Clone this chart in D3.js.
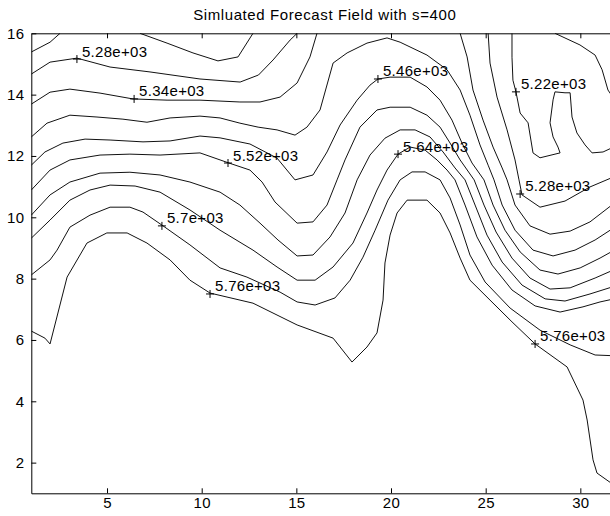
<!DOCTYPE html>
<html><head><meta charset="utf-8">
<script src="https://cdn.jsdelivr.net/npm/d3@7/dist/d3.min.js"></script>
<style>
body{margin:0;background:#fff;}
svg{display:block;}
text{font-family:"Liberation Sans",Arial,Helvetica,sans-serif;fill:#000;}
</style></head><body>
<svg id="chart" width="610" height="516"></svg>
<script>
// ---------- data (grid coordinates: x = column 1..32, y = row 1..16) ----------
const chartTitle = "Simluated Forecast Field with s=400";
const xTicks = [5, 10, 15, 20, 25, 30];
const yTicks = [2, 4, 6, 8, 10, 12, 14, 16];
const xDomain = [1, 32];
const yDomain = [1, 16];
const levels = [5220, 5280, 5340, 5400, 5460, 5520, 5580, 5640, 5700, 5760];

// each level: list of polyline pieces, points as [x, y]
const level5220 = [
  [[1,15.39],[1.99,15.71],[2.52,16]],
  [[6.74,16],[8.17,15.68],[9.54,15.36],[10.86,15.10],[11.92,15.23],[12.71,16]],
  [[26.39,16],[26.39,15.22],[26.44,14.47],[26.60,14.09],[26.82,13.40],[27.24,13.08],[27.50,12.10],[27.87,11.94],[28.93,12.10],[28.82,12.29],[28.56,12.62],[28.40,13.08],[28.56,13.83],[28.66,14.09],[29.19,14.06],[29.46,14.06],[29.56,13.27],[29.82,12.75],[30.25,12.36],[30.62,12.10],[31.20,12.13],[32,12.36]],
  [[28.66,16],[29.98,15.62],[30.78,15.29],[31.15,14.81],[31.46,14.15],[32,13.66]]
];
const level5280 = [
  [[1,14.67],[1.99,15.06],[3.41,15.19],[5.16,14.90],[7.27,14.74],[9.91,14.51],[12.03,14.41],[13.0,14.64],[13.77,15.13],[14.67,15.78],[15.04,16]],
  [[25.13,16],[25.23,15.03],[25.60,13.92],[26.13,12.85],[26.55,11.87],[26.76,11.22],[26.92,10.73],[27.87,10.33],[29.19,10.53],[30.51,10.99],[32,11.38]]
];
const level5340 = [
  [[1,13.69],[1.99,14.08],[3.04,14.18],[4.63,14.05],[6.37,13.86],[8.17,13.82],[9.91,13.82],[12.02,13.76],[13.08,13.76],[14.14,13.92],[15.04,14.38],[15.72,15.23],[16.09,16]],
  [[23.65,16],[24.02,15.23],[24.33,14.15],[24.86,13.17],[25.39,12.29],[25.87,11.61],[26.13,11.22],[26.55,10.40],[27.34,9.72],[28.40,9.45],[29.46,9.55],[30.51,9.85],[32,10.56]]
];
const level5400 = [
  [[1,12.62],[1.83,13.07],[3.04,13.33],[4.47,13.27],[5.84,13.20],[7.11,13.10],[8.33,13.24],[9.91,13.30],[10.97,13.24],[12.02,13.07],[12.98,12.94],[13.98,12.85],[14.93,12.68],[15.56,12.94],[16.25,13.50],[16.94,15.03],[17.68,15.36],[18.73,15.68],[19.79,15.85],[20.48,15.71],[21.90,15.29],[22.96,14.81],[23.65,14.15],[24.17,13.33],[24.70,12.36],[25.13,11.70],[25.44,11.22],[25.87,10.40],[26.55,9.58],[27.50,8.93],[28.56,8.74],[29.72,8.93],[30.78,9.26],[32,9.75]]
];
const level5460 = [
  [[1,11.70],[1.72,12.13],[2.67,12.42],[3.84,12.55],[5.16,12.52],[6.90,12.46],[8.33,12.49],[9.91,12.65],[10.97,12.59],[12.55,12.39],[13.98,11.93],[14.93,11.22],[15.88,11.38],[16.62,12.13],[17.31,13.01],[18.21,13.82],[18.89,14.31],[19.31,14.51],[19.95,14.57],[21.01,14.57],[21.90,14.25],[22.59,13.82],[23.22,13.17],[23.75,12.42],[24.28,11.77],[24.91,11.22],[25.39,10.40],[26.02,9.58],[26.82,8.87],[27.87,8.28],[28.82,8.15],[29.99,8.35],[31.04,8.67],[32,9.00]]
];
const level5520 = [
  [[1,10.89],[1.99,11.54],[3.04,11.87],[4.63,12.03],[6.21,12.06],[7.80,12.03],[9.91,12.10],[11.44,11.77],[12.55,11.54],[13.19,11.15],[13.87,10.50],[15.04,9.81],[15.88,9.85],[16.62,10.40],[17.15,11.22],[17.57,11.87],[18.36,12.94],[19.26,13.50],[19.95,13.59],[21.01,13.59],[21.90,13.33],[22.59,12.94],[23.12,12.42],[23.65,11.87],[24.39,11.22],[24.91,10.40],[25.55,9.52],[26.39,8.67],[27.34,8.02],[28.40,7.66],[29.46,7.70],[30.78,8.02],[32,8.35]]
];
const level5580 = [
  [[1,10.07],[1.99,10.73],[3.04,11.15],[4.63,11.44],[6.21,11.47],[7.80,11.38],[9.38,11.15],[10.97,10.82],[12.02,10.40],[13.08,9.81],[14.03,9.26],[15.04,8.74],[15.88,8.77],[16.78,9.36],[17.57,10.14],[18.21,11.22],[18.89,12.03],[19.68,12.58],[20.48,12.85],[21.27,12.85],[22.06,12.62],[22.75,12.13],[23.38,11.61],[23.91,11.22],[24.44,10.40],[25.07,9.42],[25.87,8.54],[26.92,7.79],[28.14,7.34],[29.19,7.27],[30.51,7.50],[32,7.79]]
];
const level5640 = [
  [[1,9.32],[1.99,9.91],[3.04,10.56],[4.10,10.89],[5.16,11.05],[6.48,11.02],[7.80,10.82],[9.38,10.24],[10.97,9.58],[12.71,8.93],[13.98,8.38],[15.04,7.95],[15.99,7.95],[16.94,8.38],[17.99,9.16],[18.73,10.14],[19.26,10.89],[19.79,11.54],[20.37,12.06],[21.01,12.29],[21.80,12.19],[22.43,11.87],[22.96,11.54],[23.38,11.22],[23.91,10.40],[24.54,9.36],[25.34,8.44],[26.39,7.63],[27.61,7.11],[28.93,6.91],[30.14,7.08],[31.04,7.24],[32,7.37]]
];
const level5700 = [
  [[1,8.12],[1.99,8.61],[2.36,8.93],[3.04,9.68],[4.10,10.07],[5.16,10.33],[6.21,10.33],[6.90,10.17],[7.96,9.72],[9.38,9.10],[10.97,8.35],[12.39,8.05],[14.14,7.56],[15.04,7.24],[15.99,7.14],[17.04,7.37],[17.84,7.95],[18.52,8.70],[19.16,9.58],[19.84,10.56],[20.48,11.22],[21.11,11.48],[21.80,11.48],[22.59,11.22],[23.12,10.63],[23.65,9.75],[24.17,8.77],[24.97,7.89],[26.29,7.04],[27.87,6.32],[29.46,5.84],[30.78,5.51],[32,5.48]]
];
const level5760 = [
  [[1,6.29],[1.72,6.06],[1.99,5.87],[2.89,8.05],[3.94,9.16],[4.99,9.49],[6.06,9.49],[7.11,9.16],[8.33,8.61],[9.38,7.95],[10.44,7.53],[12.71,7.20],[15.04,6.49],[16.94,6.06],[17.94,5.28],[18.73,5.77],[19.26,6.23],[19.58,7.30],[19.68,8.51],[19.95,9.42],[20.32,10.14],[20.85,10.56],[21.90,10.56],[22.59,10.14],[23.12,9.49],[23.65,8.67],[24.17,7.95],[25.23,7.30],[26.39,6.59],[27.61,5.87],[29.30,5.12],[30.14,4.04],[30.36,3.39],[30.67,2.09],[30.88,1.66],[32,1.17]]
];
const levelPieces = [level5220, level5280, level5340, level5400, level5460, level5520, level5580, level5640, level5700, level5760];

// contour labels: position of the "+" marker and its text
const labelX = [3.41, 6.43, 11.39, 7.90, 10.44, 19.31, 20.37, 26.60, 26.82, 27.61];
const labelY = [15.16, 13.86, 11.77, 9.72, 7.50, 14.51, 12.06, 14.09, 10.76, 5.87];
const labelText = ["5.28e+03", "5.34e+03", "5.52e+03", "5.7e+03", "5.76e+03", "5.46e+03", "5.64e+03", "5.22e+03", "5.28e+03", "5.76e+03"];

// ---------- drawing ----------
const W = 610, H = 516;
const plot = {left: 31.3, right: 618.2, top: 33.3, bottom: 493.3};
const svg = d3.select("#chart");
const x = d3.scaleLinear().domain(xDomain).range([plot.left, plot.right]);
const y = d3.scaleLinear().domain(yDomain).range([plot.bottom, plot.top]);

svg.append("rect").attr("width", W).attr("height", H).attr("fill", "#fff");

svg.append("defs").append("clipPath").attr("id", "clip")
  .append("rect").attr("x", plot.left).attr("y", plot.top)
  .attr("width", plot.right - plot.left).attr("height", plot.bottom - plot.top);

const line = d3.line().x(d => x(d[0])).y(d => y(d[1]));

const gLines = svg.append("g").attr("clip-path", "url(#clip)");
levels.forEach((lv, i) => {
  gLines.selectAll(null).data(levelPieces[i]).enter().append("path")
    .attr("class", "contour c" + lv)
    .attr("d", line)
    .attr("fill", "none")
    .attr("stroke", "#111")
    .attr("stroke-width", 1)
    .attr("stroke-linejoin", "round");
});

// labels
const labels = labelText.map((t, i) => ({x: labelX[i], y: labelY[i], text: t}));
const gLab = svg.append("g");
const plusSize = 4;
gLab.selectAll("path.plus").data(labels).enter().append("path")
  .attr("class", "plus")
  .attr("d", d => {
    const px = x(d.x), py = y(d.y);
    return `M${px - plusSize},${py}H${px + plusSize}M${px},${py - plusSize}V${py + plusSize}`;
  })
  .attr("stroke", "#000").attr("stroke-width", 1);
gLab.selectAll("text").data(labels).enter().append("text")
  .attr("x", d => x(d.x) + 5)
  .attr("y", d => y(d.y) - 2.5)
  .attr("font-size", 15)
  .attr("letter-spacing", 0.3)
  .text(d => d.text);

// axes (MATLAB style: box with inward ticks)
const axisStyle = g => {
  g.selectAll("path.domain").attr("stroke", "#000").attr("stroke-width", 1);
  g.selectAll(".tick line").attr("stroke", "#000").attr("stroke-width", 1);
  g.selectAll(".tick text").attr("font-size", 15).attr("letter-spacing", 0.3)
    .attr("font-family", '"Liberation Sans",Arial,Helvetica,sans-serif').attr("fill", "#000");
};
svg.append("g").attr("transform", `translate(0,${plot.bottom})`)
  .call(d3.axisBottom(x).tickValues(xTicks).tickSize(-5).tickSizeOuter(0).tickPadding(4))
  .call(axisStyle);
svg.append("g").attr("transform", `translate(0,${plot.top})`)
  .call(d3.axisTop(x).tickValues(xTicks).tickSize(-5).tickSizeOuter(0).tickFormat(""))
  .call(axisStyle);
svg.append("g").attr("transform", `translate(${plot.left},0)`)
  .call(d3.axisLeft(y).tickValues(yTicks).tickSize(-5).tickSizeOuter(0).tickPadding(7))
  .call(axisStyle);
svg.append("g").attr("transform", `translate(${plot.right},0)`)
  .call(d3.axisRight(y).tickValues(yTicks).tickSize(-5).tickSizeOuter(0).tickFormat(""))
  .call(axisStyle);

svg.append("text")
  .attr("x", (plot.left + plot.right) / 2)
  .attr("y", 20)
  .attr("text-anchor", "middle")
  .attr("font-size", 15)
  .attr("letter-spacing", 0.6)
  .text(chartTitle);
</script>
</body></html>
